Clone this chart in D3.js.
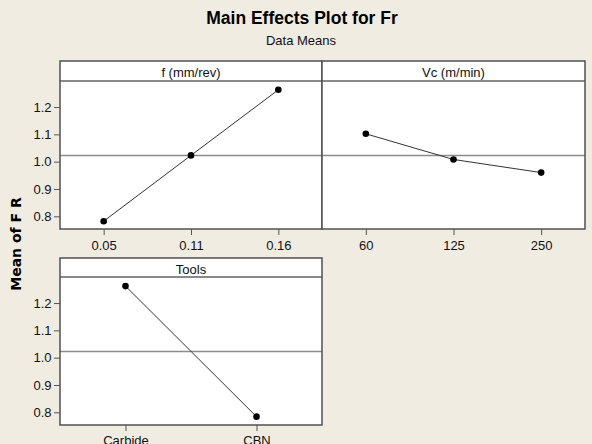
<!DOCTYPE html>
<html>
<head>
<meta charset="utf-8">
<script src="https://cdn.jsdelivr.net/npm/d3@7"></script>
<style>
  body { margin: 0; background: #f0ece2; }
  svg { display: block; }
</style>
</head>
<body>
<svg id="chart" width="592" height="444"></svg>
<script>
// ---- data ----
const fLevels = ["0.05", "0.11", "0.16"];
const fMeans = [0.782, 1.023, 1.263];
const vcLevels = ["60", "125", "250"];
const vcMeans = [1.102, 1.008, 0.960];
const toolLevels = ["Carbide", "CBN"];
const toolMeans = [1.262, 0.784];
const yTicks = [0.8, 0.9, 1.0, 1.1, 1.2];
const grandMean = 1.023;
const titleText = "Main Effects Plot for Fr";
const subtitleText = "Data Means";
const yLabelText = "Mean of F R";

const svg = d3.select("#chart");
const W = 592, H = 444;
const bg = "#f0ece2";
const font = "'Liberation Sans', Arial, sans-serif";

svg.append("rect").attr("width", W).attr("height", H).attr("fill", bg);

svg.append("text")
  .attr("x", 302).attr("y", 23.5)
  .attr("text-anchor", "middle")
  .attr("font-family", font).attr("font-weight", "bold").attr("font-size", 17.5)
  .attr("fill", "#000")
  .text(titleText);

svg.append("text")
  .attr("x", 301).attr("y", 45)
  .attr("text-anchor", "middle")
  .attr("font-family", font).attr("font-size", 13)
  .attr("fill", "#111")
  .text(subtitleText);

svg.append("text")
  .attr("transform", "translate(21,244) rotate(-90)")
  .attr("text-anchor", "middle")
  .attr("font-family", "'DejaVu Sans', sans-serif").attr("font-weight", "bold").attr("font-size", 14)
  .attr("fill", "#000")
  .text(yLabelText);

const yDomain = [0.7535, 1.2953];

function drawPanel(o) {
  const g = svg.append("g");
  const x = d3.scalePoint().domain(o.levels).range([o.x0, o.x1]).padding(0.5);
  const y = d3.scaleLinear().domain(yDomain).range([o.yBottom, o.yPlotTop]);

  // panel background
  g.append("rect")
    .attr("x", o.x0).attr("y", o.yTop)
    .attr("width", o.x1 - o.x0).attr("height", o.yBottom - o.yTop)
    .attr("fill", "#fff");

  // reference line (grand mean)
  g.append("line")
    .attr("x1", o.x0).attr("x2", o.x1)
    .attr("y1", y(grandMean)).attr("y2", y(grandMean))
    .attr("stroke", "#8c8c8c").attr("stroke-width", 1.5);

  // header separator
  g.append("line")
    .attr("x1", o.x0).attr("x2", o.x1)
    .attr("y1", o.yPlotTop).attr("y2", o.yPlotTop)
    .attr("stroke", "#8a8a8a").attr("stroke-width", 2);

  // header text
  g.append("text")
    .attr("x", (o.x0 + o.x1) / 2).attr("y", o.yTop + 15.5)
    .attr("text-anchor", "middle")
    .attr("font-family", font).attr("font-size", 13).attr("fill", "#111")
    .text(o.header);

  // connecting line
  const pts = o.levels.map((l, i) => [x(l), y(o.values[i])]);
  g.append("path")
    .attr("d", d3.line()(pts))
    .attr("fill", "none").attr("stroke", "#333").attr("stroke-width", 1);

  g.selectAll("circle.pt").data(pts).join("circle")
    .attr("class", "pt")
    .attr("cx", d => d[0]).attr("cy", d => d[1]).attr("r", 3.3)
    .attr("fill", "#000");

  // border
  g.append("rect")
    .attr("x", o.x0).attr("y", o.yTop)
    .attr("width", o.x1 - o.x0).attr("height", o.yBottom - o.yTop)
    .attr("fill", "none").attr("stroke", "#505050").attr("stroke-width", 1.5);

  // x axis
  const xa = g.append("g")
    .attr("transform", `translate(0,${o.yBottom})`)
    .call(d3.axisBottom(x).tickSize(6).tickPadding(o.xPad));
  xa.select(".domain").remove();
  xa.selectAll(".tick line").attr("stroke", "#555");
  xa.selectAll("text").attr("font-family", font).attr("font-size", 13).attr("fill", "#111");

  if (o.showY) {
    const ya = g.append("g")
      .attr("transform", `translate(${o.x0},0)`)
      .call(d3.axisLeft(y).tickValues(yTicks).tickFormat(d3.format(".1f")).tickSize(6).tickPadding(2.5));
    ya.select(".domain").remove();
    ya.selectAll(".tick line").attr("stroke", "#555");
    ya.selectAll("text").attr("font-family", font).attr("font-size", 13).attr("fill", "#111");
  }
}

drawPanel({levels: fLevels, values: fMeans, header: "f (mm/rev)",
  x0: 60, x1: 322, yTop: 61, yPlotTop: 81, yBottom: 229, showY: true, xPad: 6});
drawPanel({levels: vcLevels, values: vcMeans, header: "Vc (m/min)",
  x0: 322, x1: 585, yTop: 61, yPlotTop: 81, yBottom: 229, showY: false, xPad: 6});
drawPanel({levels: toolLevels, values: toolMeans, header: "Tools",
  x0: 60, x1: 322, yTop: 258, yPlotTop: 277, yBottom: 425, showY: true, xPad: 5});
</script>
</body>
</html>
